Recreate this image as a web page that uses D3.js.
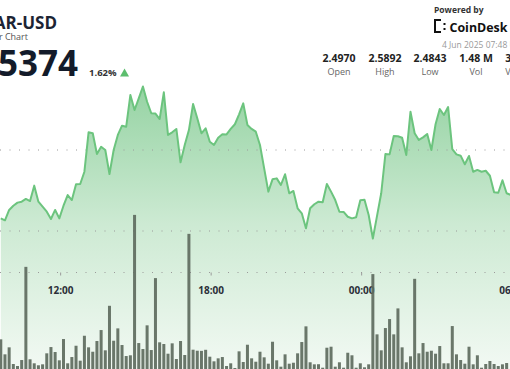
<!DOCTYPE html>
<html><head><meta charset="utf-8">
<script src="https://cdn.jsdelivr.net/npm/d3@7"></script>
<style>
html,body{margin:0;padding:0;background:#fff;overflow:hidden;}
svg{display:block;font-family:"Open Sans","Noto Sans",sans-serif;}
</style></head>
<body>
<svg id="chart" width="510" height="369"></svg>
<script>
// ---- data (10-minute intervals, first point 3 Jun 2025 09:38 UTC) ----
const symbol = "NEAR-USD";
const subtitle = "24 Hour Chart";
const lastPrice = "2.5374";
const changePct = "1.62%";
const statLabels = ["Open", "High", "Low", "Vol", "Vol USD"];
const statValues = ["2.4970", "2.5892", "2.4843", "1.48 M", "3.74 M"];
const dateStamp = "4 Jun 2025 07:48 UTC";
const firstTime = "2025-06-03T09:38:00Z";
const intervalMinutes = 10;
const price = [
 2.5078,2.5066,2.5130,2.5156,2.5175,2.5181,2.5198,2.5185,2.5280,2.5181,
 2.5150,2.5119,2.5074,2.5130,2.5078,2.5156,2.5222,2.5191,2.5288,2.5290,
 2.5366,2.5609,2.5603,2.5475,2.5520,2.5500,2.5352,2.5500,2.5593,2.5650,
 2.5644,2.5840,2.5747,2.5819,2.5892,2.5798,2.5727,2.5725,2.5691,2.5856,
 2.5593,2.5609,2.5630,2.5424,2.5531,2.5623,2.5784,2.5696,2.5603,2.5634,
 2.5551,2.5531,2.5576,2.5597,2.5596,2.5630,2.5659,2.5720,2.5788,2.5654,
 2.5630,2.5613,2.5531,2.5387,2.5243,2.5319,2.5325,2.5284,2.5350,2.5233,
 2.5247,2.5140,2.5109,2.5017,2.5140,2.5165,2.5181,2.5177,2.5290,2.5243,
 2.5191,2.5119,2.5118,2.5088,2.5078,2.5085,2.5190,2.5193,2.5099,2.4954,
 2.5093,2.5233,2.5475,2.5473,2.5586,2.5585,2.5576,2.5469,2.5736,2.5603,
 2.5562,2.5578,2.5599,2.5500,2.5659,2.5753,2.5716,2.5765,2.5506,2.5473,
 2.5465,2.5412,2.5463,2.5366,2.5377,2.5366,2.5372,2.5341,2.5239,2.5236,
 2.5313,2.5233,2.5222
];
const volume = [
 6150,3040,4490,1035,620,1860,21170,2010,1180,770,
 970,3250,4550,3520,1800,6210,1180,2480,4820,1720,
 6890,4490,3580,5800,8070,3870,13100,5860,8420,4970,
 2690,2840,31940,5380,4140,9050,3930,18840,5530,5180,
 3170,5320,2070,5800,2900,28010,4000,3790,3760,3980,
 2550,1590,2210,2480,620,1180,210,3660,1450,5030,
 2210,1510,3580,2420,1100,5650,1800,480,3040,1100,
 1300,3250,5590,8840,1390,970,990,270,4410,4620,
 480,1390,270,3370,2840,270,1180,350,970,19670,
 7180,3870,8490,10350,7180,12560,4490,1390,2630,18690,
 3250,5380,3580,3790,3170,4760,1180,1180,8900,3040,
 1860,1100,4620,970,2840,270,1035,1660,1035,620,
 970,1240
];
const priceGridTicks = [2.50, 2.55];
const volumeGridTicks = [20000];

// ---- build ----
const t0 = new Date(firstTime).getTime();
const timeAt = i => new Date(t0 + i * intervalMinutes * 60000);
const priceData = price.map((p, i) => ({t: timeAt(i), p}));
const volData = volume.map((v, i) => ({t: timeAt(i), v}));

const svg = d3.select("#chart");
const W = 510, H = 369;

const x = d3.scaleUtc()
  .domain([new Date("2025-06-03T07:48:00Z"), new Date("2025-06-04T07:48:00Z")])
  .range([-45.2, 556.8]);
const yP = d3.scaleLinear().domain([2.50, 2.55]).range([231, 150]);
const yV = d3.scaleLinear().domain([0, 20000]).range([H, 272.5]);

const defs = svg.append("defs");
const grad = defs.append("linearGradient").attr("id", "areaGrad")
  .attr("gradientUnits", "userSpaceOnUse").attr("x1", 0).attr("x2", 0)
  .attr("y1", 80).attr("y2", H);
grad.append("stop").attr("offset", 0).attr("stop-color", "#93d2a1");
grad.append("stop").attr("offset", 0.5).attr("stop-color", "#cdead3");
grad.append("stop").attr("offset", 1).attr("stop-color", "#f2f9f3");

// area
svg.append("path").datum(priceData)
  .attr("fill", "url(#areaGrad)")
  .attr("d", d3.area().x(d => x(d.t)).y0(H).y1(d => yP(d.p)));

// grid
const gridYs = priceGridTicks.map(yP).concat(volumeGridTicks.map(yV));
svg.append("g").selectAll("line").data(gridYs).join("line")
  .attr("x1", 0).attr("x2", W).attr("y1", d => d).attr("y2", d => d)
  .attr("stroke", "#9a9a9a").attr("stroke-width", 1)
  .attr("stroke-dasharray", "1,8.5");

// time axis
const axis = d3.axisBottom(x)
  .ticks(d3.utcHour.every(6))
  .tickFormat(d3.utcFormat("%H:%M"))
  .tickSize(3).tickPadding(11);
const gx = svg.append("g").attr("transform", "translate(0,272.5)").call(axis);
gx.select(".domain").remove();
gx.selectAll(".tick line").attr("stroke", "#9a9a9a");
gx.selectAll(".tick text").attr("fill", "#2b2f38").attr("font-size", 10)
  .attr("font-weight", 700).attr("font-family", "'Open Sans',sans-serif");

// volume bars
const bw = 3;
svg.append("g").selectAll("rect").data(volData).join("rect")
  .attr("x", d => x(d.t) - bw / 2)
  .attr("y", d => yV(d.v))
  .attr("width", bw)
  .attr("height", d => H - yV(d.v))
  .attr("fill", "#5e6b5e").attr("fill-opacity", 0.92);

// price line
svg.append("path").datum(priceData)
  .attr("fill", "none").attr("stroke", "#6cc47e").attr("stroke-width", 2)
  .attr("stroke-linejoin", "round")
  .attr("d", d3.line().x(d => x(d.t)).y(d => yP(d.p)));

// ---- header ----
svg.append("text").attr("x", 57).attr("y", 29).attr("text-anchor", "end")
  .attr("font-size", 17).attr("font-weight", 700).attr("fill", "#1c2433").text(symbol);
svg.append("text").attr("x", 28).attr("y", 40).attr("text-anchor", "end")
  .attr("font-size", 9).attr("fill", "#555").text(subtitle);
svg.append("text").attr("x", 78).attr("y", 76).attr("text-anchor", "end")
  .attr("font-size", 35).attr("font-weight", 700).attr("fill", "#131b2a").text(lastPrice);
svg.append("text").attr("x", 89).attr("y", 75.5)
  .attr("font-size", 9.5).attr("font-weight", 700).attr("fill", "#333").text(changePct);
svg.append("path").attr("d", "M120,76.5 L124.5,68.5 L129,76.5 Z").attr("fill", "#5cbe6e");

// stats
const statX = [339, 385, 430, 476, 522];
statValues.forEach((v, i) => {
  svg.append("text").attr("x", statX[i]).attr("y", 61.5).attr("text-anchor", "middle")
    .attr("font-size", 10.5).attr("font-weight", 700).attr("fill", "#222").text(v);
  svg.append("text").attr("x", statX[i]).attr("y", 74.5).attr("text-anchor", "middle")
    .attr("font-size", 9).attr("fill", "#666").text(statLabels[i]);
});

// powered by / logo
svg.append("text").attr("x", 434).attr("y", 13).attr("font-size", 8.5)
  .attr("font-weight", 700).attr("fill", "#333").text("Powered by");
const logo = svg.append("g").attr("fill", "#111");
[[434,19,2,14],[434,19,7,2],[434,31,7,2],[439,19,2,2],[439,31,2,2],[443.5,23,2,2],[443.5,28,2,2]]
  .forEach(r => logo.append("rect").attr("x", r[0]).attr("y", r[1]).attr("width", r[2]).attr("height", r[3]));
svg.append("text").attr("x", 449.5).attr("y", 31.5).attr("font-size", 13)
  .attr("font-weight", 700).attr("fill", "#111")
  .attr("textLength", 58).attr("lengthAdjust", "spacingAndGlyphs").text("CoinDesk");
svg.append("text").attr("x", 442).attr("y", 48).attr("font-size", 8.5)
  .attr("fill", "#999").text(dateStamp);
</script>
</body></html>
